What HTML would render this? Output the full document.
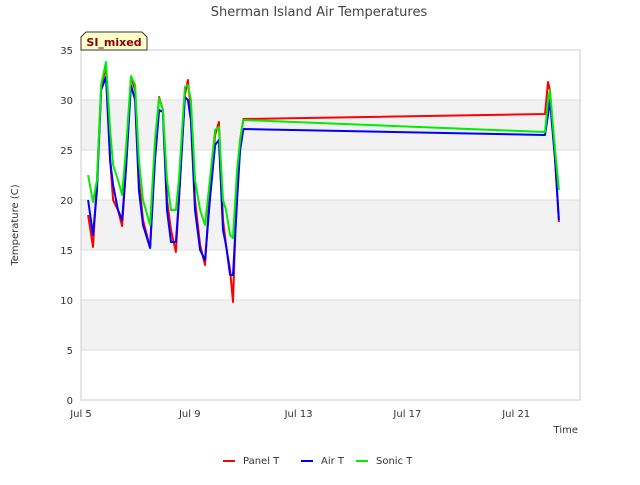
<!DOCTYPE html>
<html><head><meta charset="utf-8"><style>
body{margin:0;background:#fff;}
svg text{font-family:"DejaVu Sans","Liberation Sans",sans-serif;}
</style></head><body>
<svg width="640" height="480" viewBox="0 0 640 480" xmlns="http://www.w3.org/2000/svg">
<rect width="640" height="480" fill="#fff"/>
<text x="319" y="16" text-anchor="middle" font-size="13" fill="#444">Sherman Island Air Temperatures</text>
<g id="bands"></g>
<g id="grid"></g>
<rect x="81" y="50" width="499" height="350" fill="none" stroke="#ccc"/>
<g id="yticks"></g>
<g id="xticks"></g>
<g id="series"></g>
<text x="18" y="225" transform="rotate(-90 18 225)" text-anchor="middle" font-size="10" fill="#333">Temperature (C)</text>
<text x="578" y="433" text-anchor="end" font-size="10" fill="#333">Time</text>
<g>
<path d="M81,50 L81,37 L86,32 L142,32 L147,37 L147,50 Z" fill="#ffffcc" stroke="#333"/>
<text x="114" y="46" text-anchor="middle" font-size="11" font-weight="bold" fill="#8b0000">SI_mixed</text>
</g>
<g id="legend"></g>
</svg>
<script>
const times=[5.26,5.44,5.59,5.74,5.92,6.07,6.18,6.36,6.51,6.65,6.84,6.99,7.13,7.28,7.54,7.72,7.87,8.01,8.16,8.31,8.49,8.60,8.82,8.93,9.04,9.19,9.38,9.56,9.74,9.93,10.07,10.22,10.33,10.48,10.59,10.74,10.85,10.97,22.06,22.17,22.24,22.43,22.57];
const panelT=[18.5,15.3,22,31,33.5,24,20,19,17.4,23,32.3,31,22,18,15.2,25,30.3,29,20,17,14.8,20,30.5,32,29,20,15.5,13.5,21,26.5,27.8,18,15.5,13,9.8,22,26,28.1,28.6,31.8,31,24,17.8];
const airT=[20,16.5,21,31,32.3,24,21.5,19,18,23,31.5,30,21,17.5,15.2,24,29,28.8,19,15.8,15.8,20,30.3,30,28,19,15,14,20,25.5,26,17,15.5,12.5,12.5,20,25,27.1,26.5,28.5,30,24,18];
const sonicT=[22.5,19.8,22,31.5,33.8,27,23.5,22,20.5,25,32.4,31.5,24,20,17.5,26,30.2,29,22,19,19,22,31.3,31.5,30,22,19,17.5,22,27,27.3,20,19,16.5,16.2,23,26,28,26.8,30,31,25,21];
const yTicks=[0,5,10,15,20,25,30,35];
const xTickDays=[5,9,13,17,21];
const xTickLabels=["Jul 5","Jul 9","Jul 13","Jul 17","Jul 21"];
const seriesNames=["Panel T","Air T","Sonic T"];
const seriesColors=["#ff0000","#0000ff","#00ee00"];

const NS="http://www.w3.org/2000/svg";
const X=d=>81+(d-5)*27.2;
const Y=v=>400-v*10;
function mk(tag,attrs,parent){const e=document.createElementNS(NS,tag);for(const k in attrs)e.setAttribute(k,attrs[k]);parent.appendChild(e);return e;}
const bands=document.getElementById('bands'),grid=document.getElementById('grid'),yt=document.getElementById('yticks'),xt=document.getElementById('xticks');
for(let i=0;i<yTicks.length-1;i++){
  if(i%2===1){const r=mk('rect',{x:81,y:Y(yTicks[i+1]),width:499,height:Y(yTicks[i])-Y(yTicks[i+1]),fill:'#f2f2f2'},bands);
  
  }
}
yTicks.forEach(v=>{
  const l=mk('line',{x1:81,x2:580,y1:Y(v),y2:Y(v),stroke:'#ddd'},grid);
  
  
  const t=mk('text',{x:73,y:Y(v)+4,'text-anchor':'end','font-size':10,fill:'#333'},yt);
  t.textContent=v;
  
  
});
xTickDays.forEach((d,i)=>{
  const t=mk('text',{x:X(d),y:417,'text-anchor':'middle','font-size':10,fill:'#333'},xt);
  t.textContent=xTickLabels[i];
  
  
});
const sg=document.getElementById('series');
[panelT,airT,sonicT].forEach((vals,si)=>{
  const pts=vals.map((v,i)=>X(times[i]).toFixed(1)+','+Y(v).toFixed(1)).join(' ');
  const p=mk('polyline',{points:pts,fill:'none',stroke:seriesColors[si],'stroke-width':2,'stroke-linejoin':'round'},sg);
  
  
});
const lg=document.getElementById('legend');
const lx=[223,301,356];
seriesNames.forEach((n,i)=>{
  const g=mk('g',{},lg);
  
  
  mk('line',{x1:lx[i],x2:lx[i]+12,y1:461,y2:461,stroke:seriesColors[i],'stroke-width':2},g);
  const t=mk('text',{x:lx[i]+20,y:464,'font-size':10,fill:'#333'},g);
  t.textContent=n;
});
</script>
</body></html>
